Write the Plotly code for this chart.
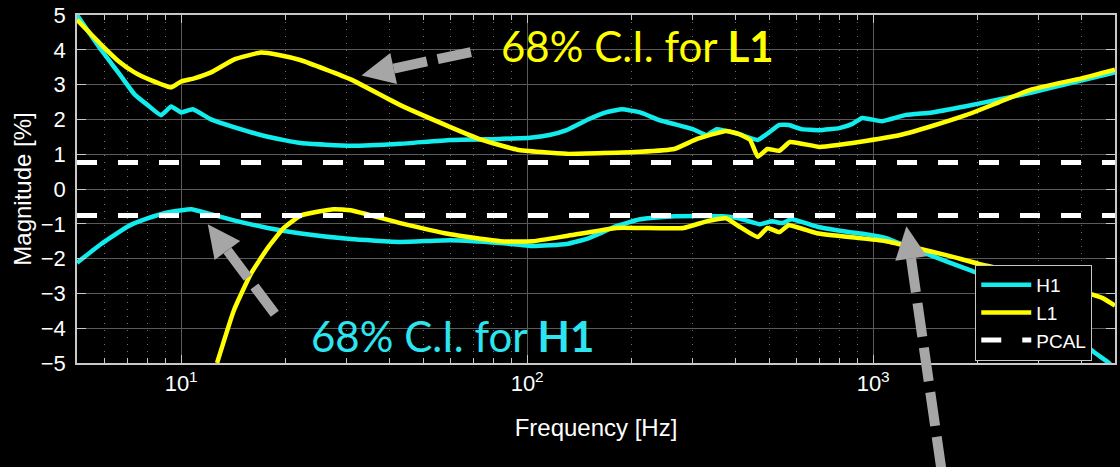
import math
import plotly.graph_objects as go

# ---- data: 68% confidence bounds on calibration magnitude (%) vs frequency (Hz) ----
freq_h1_upper = [5, 5.87, 6.58, 7.33, 8.03, 8.75, 9.36, 10, 10.8, 12.2, 14.2, 17.8, 22.2,
                 30.9, 43, 60, 83.6, 102, 116, 130, 151, 170, 188, 212, 242, 270, 301, 330,
                 353, 409, 464, 536, 570, 622, 699, 798, 871, 929, 1062, 1245, 1480, 1853,
                 2307, 2873, 3597, 5000]
h1_upper = [5.0, 4.0, 3.35, 2.72, 2.4, 2.12, 2.37, 2.2, 2.29, 2.0, 1.78, 1.5, 1.32,
            1.24, 1.3, 1.41, 1.44, 1.47, 1.55, 1.69, 2.01, 2.21, 2.29, 2.2, 1.97, 1.85, 1.72, 1.55,
            1.72, 1.58, 1.41, 1.84, 1.84, 1.72, 1.69, 1.75, 1.87, 2.04, 1.95, 2.13, 2.2, 2.38,
            2.57, 2.77, 3.01, 3.35]

freq_h1_lower = [5, 5.87, 7.03, 8.03, 9.2, 10.7, 11.95, 14.2, 17.8, 22.2, 30.9, 43, 60, 83.6,
                 104, 130, 151, 181, 212, 266, 367, 409, 469, 510, 547, 580, 699, 856, 951,
                 1090, 1245, 1480, 1853, 2307, 2900, 3600, 4276, 4800, 5000]
h1_lower = [-2.12, -1.58, -1.07, -0.84, -0.67, -0.58, -0.7, -0.9, -1.12, -1.28, -1.44, -1.52,
            -1.47, -1.55, -1.64, -1.58, -1.41, -1.07, -0.87, -0.78, -0.78, -0.84, -1.01, -0.93,
            -0.98, -0.87, -1.1, -1.24, -1.3, -1.41, -1.64, -1.92, -2.29, -2.64, -3.2, -3.85,
            -4.63, -5.0, -5.2]

freq_l1_upper = [5, 5.87, 6.58, 7.33, 8.2, 9.36, 10, 10.9, 12.2, 14.2, 17.0, 19.0, 22.2, 30.9,
                 43, 60, 74, 93.6, 130, 212, 266, 310, 376, 409, 441, 464, 495, 536, 575, 699,
                 798, 951, 1196, 1480, 1853, 2307, 2873, 4000, 5000]
l1_upper = [4.86, 4.15, 3.68, 3.35, 3.12, 2.92, 3.09, 3.18, 3.35, 3.72, 3.92, 3.86, 3.7, 3.15,
            2.41, 1.78, 1.41, 1.13, 1.01, 1.07, 1.15, 1.44, 1.67, 1.58, 1.41, 0.93, 1.15, 1.1,
            1.35, 1.21, 1.27, 1.38, 1.55, 1.81, 2.12, 2.49, 2.86, 3.18, 3.43]

freq_l1_lower = [12.7, 14.2, 15.9, 17.8, 19.8, 22.2, 27.6, 30.9, 43, 60, 83.6, 104, 130, 181,
                 212, 283, 330, 376, 409, 464, 495, 536, 570, 688, 911, 1090, 1324, 1657, 2020,
                 2900, 3600, 4573, 5000]
l1_lower = [-5.0, -3.49, -2.44, -1.69, -1.12, -0.76, -0.58, -0.61, -0.98, -1.3, -1.5, -1.5,
            -1.35, -1.12, -1.12, -1.12, -0.93, -0.84, -1.07, -1.38, -1.12, -1.24, -1.04, -1.27,
            -1.41, -1.5, -1.69, -1.92, -2.15, -2.5, -2.8, -3.12, -3.35]

# photon calibrator reference uncertainty band
pcal_freq = [5, 5000]
pcal_level = 0.76

x_range = [5, 5000]
y_ticks = [-5, -4, -3, -2, -1, 0, 1, 2, 3, 4, 5]
x_ticks = [10, 100, 1000]
x_tick_text = ["10<sup>1</sup>", "10<sup>2</sup>", "10<sup>3</sup>"]
x_minor = [m * d for d in (1, 10, 100, 1000) for m in range(2, 10) if 5 < m * d < 5000]

# ---- styling ----
CYAN = "#12ecec"
YELLOW = "#ffff00"
ARROW_GREY = "#a6a6a6"
AXIS_FONT = "Liberation Sans, Arial, sans-serif"
NOTE_FONT = "Lato, Noto Sans, sans-serif"

W, H = 1120, 467
PLOT_L, PLOT_T, PLOT_W, PLOT_H = 77, 12, 1040, 351


def to_paper(px, py):
    return (px - PLOT_L) / PLOT_W, (PLOT_T + PLOT_H - py) / PLOT_H


fig = go.Figure()

line_w = 4.5
curve = dict(width=line_w, shape="spline", smoothing=0.4)
fig.add_trace(go.Scatter(x=freq_h1_upper, y=h1_upper, mode="lines", name="H1",
                         line=dict(color=CYAN, **curve)))
fig.add_trace(go.Scatter(x=freq_l1_upper, y=l1_upper, mode="lines", name="L1",
                         line=dict(color=YELLOW, **curve)))
fig.add_trace(go.Scatter(x=pcal_freq, y=[pcal_level] * 2, mode="lines", name="PCAL",
                         line=dict(color="white", width=5, dash="20px,21px")))
fig.add_trace(go.Scatter(x=freq_h1_lower, y=h1_lower, mode="lines", name="H1",
                         showlegend=False, line=dict(color=CYAN, **curve)))
fig.add_trace(go.Scatter(x=freq_l1_lower, y=l1_lower, mode="lines", name="L1",
                         showlegend=False, line=dict(color=YELLOW, **curve)))
fig.add_trace(go.Scatter(x=pcal_freq, y=[-pcal_level] * 2, mode="lines", name="PCAL",
                         showlegend=False,
                         line=dict(color="white", width=5, dash="20px,21px")))


def dashed_arrow(tail, tip, head_len=33, head_w=32, shaft_w=10, dash="34px,11px"):
    """Grey block arrow with a dashed shaft, given pixel tail/tip points."""
    dx, dy = tip[0] - tail[0], tip[1] - tail[1]
    n = math.hypot(dx, dy)
    ux, uy = dx / n, dy / n
    bx, by = tip[0] - head_len * ux, tip[1] - head_len * uy
    px_, py_ = -uy, ux
    v1 = (bx + head_w / 2 * px_, by + head_w / 2 * py_)
    v2 = (bx - head_w / 2 * px_, by - head_w / 2 * py_)
    shapes = []
    s0 = to_paper(bx, by)
    s1 = to_paper(*tail)
    shapes.append(dict(type="line", xref="paper", yref="paper",
                       x0=s0[0], y0=s0[1], x1=s1[0], y1=s1[1],
                       line=dict(color=ARROW_GREY, width=shaft_w, dash=dash)))
    pts = [to_paper(*tip), to_paper(*v1), to_paper(*v2)]
    path = "M{:.5f},{:.5f} L{:.5f},{:.5f} L{:.5f},{:.5f} Z".format(
        pts[0][0], pts[0][1], pts[1][0], pts[1][1], pts[2][0], pts[2][1])
    shapes.append(dict(type="path", xref="paper", yref="paper", path=path,
                       fillcolor=ARROW_GREY, line=dict(width=0)))
    return shapes


shapes = []
shapes += dashed_arrow((478, 48), (362, 73))
shapes += dashed_arrow((281, 321), (208, 223))
shapes += dashed_arrow((943, 470), (908, 225))

ann_l1 = to_paper(500, 43)
ann_h1 = to_paper(309, 336)
annotations = [
    dict(xref="paper", yref="paper", x=ann_l1[0], y=ann_l1[1], xanchor="left",
         yanchor="middle", showarrow=False, text="68% C.I. for <b>L1</b>",
         font=dict(family=NOTE_FONT, size=42, color=YELLOW)),
    dict(xref="paper", yref="paper", x=ann_h1[0], y=ann_h1[1], xanchor="left",
         yanchor="middle", showarrow=False, text="68% C.I. for <b>H1</b>",
         font=dict(family=NOTE_FONT, size=42, color="#2ee4ee")),
]

fig.update_layout(
    width=W, height=H,
    margin=dict(l=PLOT_L, r=W - PLOT_L - PLOT_W, t=PLOT_T, b=H - PLOT_T - PLOT_H),
    paper_bgcolor="black", plot_bgcolor="black",
    font=dict(family=AXIS_FONT, color="white", size=21),
    shapes=shapes,
    annotations=annotations,
    legend=dict(x=(977 - PLOT_L) / PLOT_W, y=(PLOT_T + PLOT_H - 264) / PLOT_H,
                xanchor="left", yanchor="top", bgcolor="black",
                bordercolor="#c8c8c8", borderwidth=1,
                font=dict(family=AXIS_FONT, size=19, color="white"),
                tracegroupgap=0, itemwidth=50, entrywidth=112),
    showlegend=True,
)

fig.update_xaxes(
    type="log", range=[math.log10(x_range[0]), math.log10(x_range[1])],
    tickvals=x_ticks, ticktext=x_tick_text,
    showgrid=True, gridcolor="#5a5a5a", gridwidth=1,
    ticks="inside", ticklen=8, tickcolor="#c8c8c8", tickwidth=1,
    showline=True, linecolor="#c8c8c8", linewidth=1.5, mirror="ticks",
    zeroline=False, tickfont=dict(size=22, color="white"),
    minor=dict(tickvals=x_minor, ticks="inside", ticklen=5, tickcolor="#c8c8c8",
               showgrid=True, gridcolor="#707070", griddash="1px,6px", gridwidth=1),
    title=dict(text="Frequency [Hz]", font=dict(size=24, color="white"), standoff=24),
)
fig.update_yaxes(
    range=[-5, 5], tickvals=y_ticks,
    showgrid=True, gridcolor="#5a5a5a", gridwidth=1,
    ticks="inside", ticklen=9, tickcolor="#c8c8c8", tickwidth=1,
    showline=True, linecolor="#c8c8c8", linewidth=1.5, mirror="ticks",
    zeroline=False, tickfont=dict(size=22, color="white"), ticklabelstandoff=5,
    ticklabeloverflow="allow",
    title=dict(text="Magnitude [%]", font=dict(size=24, color="white"), standoff=2),
)

fig.write_html("out.html")
